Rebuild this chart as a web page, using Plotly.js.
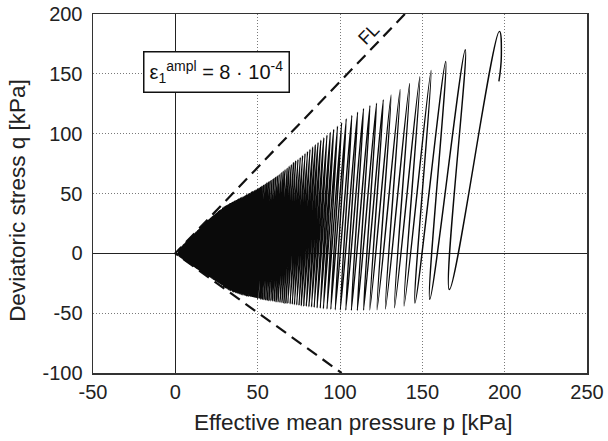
<!DOCTYPE html>
<html>
<head>
<meta charset="utf-8">
<script src="https://cdn.plot.ly/plotly-3.0.1.min.js"></script>
<style>html,body{margin:0;padding:0;background:#fff;}</style>
</head>
<body>
<div id="chart" style="width:608px;height:441px;"></div>
<script>
// Start of the stress path (small hook before the first peak)
const startP = [196.5, 198.0];
const startQ = [143.7, 166.0];

// Peaks of the cycles (p, q) in kPa
const peakP = [196.8, 176.1, 164.2, 155.3, 148.5, 142.3, 136.5, 131.0, 126.3, 122.2,
  118.2, 114.3, 110.7, 107.2, 103.8,
  101.0, 98.5, 96.2, 94.1, 92.1, 90.2, 88.4, 86.7, 85.0, 83.4,
  81.8, 80.3, 78.8, 77.3, 75.9, 74.5, 73.1, 71.8, 70.5, 69.2,
  67.9, 66.7, 65.5, 64.3, 63.1, 62.0, 60.9, 59.8, 58.7, 57.6,
  56.6, 55.6, 54.6, 53.6, 52.6, 51.7, 50.8, 49.9, 49.0, 48.1,
  47.2, 46.4, 45.6, 44.8, 44.0, 43.2, 42.4, 41.7, 41.0, 40.3,
  39.6, 38.9, 38.2, 37.5, 36.9, 36.2, 35.6, 35.0, 34.4, 33.8,
  33.2, 32.6, 32.0, 31.4, 30.9, 30.3, 29.8, 29.3, 28.8, 28.3,
  27.8, 27.3, 26.8, 26.3, 25.8, 25.4, 24.9, 24.5, 24.0, 23.6,
  23.2, 22.8, 22.4, 22.0, 21.6, 21.2, 20.8, 20.5, 20.1, 19.8,
  19.4, 19.1, 18.7, 18.4, 18.1, 17.8, 17.5, 17.2, 16.9, 16.6,
  16.3, 16.0, 15.7, 15.4, 15.1, 14.8, 14.5, 14.2, 13.9, 13.6,
  13.3, 13.0, 12.7, 12.4, 12.1, 11.8, 11.5, 11.2, 10.9, 10.6,
  10.3, 10.0, 9.7, 9.4, 9.1, 8.8, 8.5, 8.2, 7.9, 7.6,
  7.3, 7.0, 6.7, 6.4, 6.1, 5.8, 5.5, 5.2, 4.9, 4.6,
  4.3, 4.0, 3.7, 3.4, 3.1, 2.8, 2.5, 2.2];
const peakQ = [185.5, 170.2, 160.4, 152.9, 147.5, 142.0, 137.0, 132.3, 128.4, 125.5,
  123.5, 121.0, 118.0, 115.3, 112.5,
  109.2, 106.3, 103.6, 101.1, 98.8, 96.6, 94.6, 92.6, 90.7, 88.8,
  87.0, 85.2, 83.5, 81.8, 80.2, 78.6, 77.0, 75.6, 74.1, 72.7,
  71.2, 69.9, 68.6, 67.3, 65.9, 64.7, 63.5, 62.3, 61.3, 60.3,
  59.4, 58.5, 57.6, 56.7, 55.8, 55.0, 54.2, 53.4, 52.8, 52.2,
  51.5, 51.0, 50.4, 49.9, 49.3, 48.7, 48.2, 47.7, 47.2, 46.7,
  46.2, 45.7, 45.2, 44.6, 44.2, 43.7, 43.2, 42.8, 42.3, 41.9,
  41.4, 41.0, 40.5, 40.1, 39.7, 39.2, 38.8, 38.2, 37.6, 37.0,
  36.5, 35.9, 35.3, 34.7, 34.2, 33.7, 33.1, 32.7, 32.1, 31.6,
  31.2, 30.7, 30.3, 29.8, 29.3, 28.9, 28.4, 28.1, 27.6, 27.2,
  26.7, 26.3, 25.7, 25.3, 24.9, 24.5, 24.1, 23.7, 23.3, 22.9,
  22.5, 22.1, 21.7, 21.3, 20.9, 20.5, 20.1, 19.7, 19.3, 18.9,
  18.5, 18.1, 17.6, 17.2, 16.8, 16.4, 16.0, 15.6, 15.2, 14.8,
  14.4, 14.0, 13.6, 13.2, 12.7, 12.3, 11.9, 11.5, 11.1, 10.6,
  10.2, 9.8, 9.4, 9.0, 8.5, 8.1, 7.7, 7.3, 6.9, 6.4,
  6.0, 5.6, 5.2, 4.8, 4.3, 3.9, 3.5, 3.1];

// Troughs of the cycles (p, q) in kPa
const troughP = [166.4, 154.5, 145.5, 138.9, 133.1, 127.6, 122.5, 118.1, 114.3, 110.5,
  106.9, 103.5, 100.2, 97.1,
  94.4, 92.1, 89.9, 88.0, 86.1, 84.3, 82.7, 81.1, 79.5, 78.0,
  76.5, 75.1, 73.7, 72.3, 71.0, 69.7, 68.3, 67.1, 65.9, 64.7,
  63.5, 62.4, 61.2, 60.1, 59.0, 58.0, 56.9, 55.9, 54.9, 53.9,
  52.9, 52.0, 51.1, 50.1, 49.2, 48.3, 47.5, 46.7, 45.8, 45.0,
  44.1, 43.4, 42.6, 41.9, 41.1, 40.4, 39.6, 39.0, 38.3, 37.7,
  37.0, 36.4, 35.7, 35.1, 34.5, 33.8, 33.3, 32.7, 32.2, 31.6,
  31.0, 30.5, 29.9, 29.4, 28.9, 28.3, 27.9, 27.4, 26.9, 26.5,
  26.0, 25.5, 25.1, 24.6, 24.1, 23.7, 23.3, 22.9, 22.4, 22.1,
  21.7, 21.3, 20.9, 20.6, 20.2, 19.8, 19.4, 19.2, 18.8, 18.5,
  18.1, 17.9, 17.5, 17.2, 16.9, 16.6, 16.4, 16.1, 15.8, 15.5,
  15.2, 15.0, 14.7, 14.4, 14.1, 13.8, 13.6, 13.3, 13.0, 12.7,
  12.4, 12.2, 11.9, 11.6, 11.3, 11.0, 10.8, 10.5, 10.2, 9.9,
  9.6, 9.4, 9.1, 8.8, 8.5, 8.2, 7.9, 7.7, 7.4, 7.1,
  6.8, 6.5, 6.3, 6.0, 5.7, 5.4, 5.1, 4.9, 4.6, 4.3,
  4.0, 3.7, 3.5, 3.2, 2.9, 2.6, 2.3, 2.1, 1.9];
const troughQ = [-30.3, -38.4, -41.5, -44.0, -45.5, -46.5, -47.1, -47.4, -47.6, -47.8,
  -47.7, -47.5, -47.4, -47.1,
  -46.8, -46.5, -46.3, -45.9, -45.6, -45.2, -44.9, -44.6, -44.3, -44.1,
  -43.8, -43.5, -43.2, -42.9, -42.6, -42.3, -42.0, -41.8, -41.5, -41.2,
  -41.0, -40.7, -40.5, -40.2, -39.9, -39.7, -39.4, -39.1, -38.8, -38.6,
  -38.3, -38.0, -37.8, -37.5, -37.2, -37.0, -36.7, -36.4, -36.2, -35.9,
  -35.6, -35.4, -35.1, -34.9, -34.7, -34.4, -34.1, -33.8, -33.5, -33.2,
  -32.9, -32.6, -32.3, -32.0, -31.6, -31.0, -30.6, -30.2, -29.8, -29.3,
  -28.8, -28.4, -27.9, -27.5, -27.0, -26.5, -26.1, -25.7, -25.2, -24.9,
  -24.4, -24.0, -23.6, -23.1, -22.7, -22.3, -22.0, -21.6, -21.2, -20.9,
  -20.5, -20.2, -19.8, -19.5, -19.2, -18.8, -18.4, -18.2, -17.9, -17.6,
  -17.2, -17.0, -16.6, -16.3, -16.1, -15.8, -15.6, -15.3, -15.0, -14.7,
  -14.4, -14.3, -14.0, -13.7, -13.4, -13.1, -12.9, -12.6, -12.4, -12.1,
  -11.8, -11.6, -11.3, -11.0, -10.7, -10.5, -10.3, -10.0, -9.7, -9.4,
  -9.1, -9.0, -8.7, -8.4, -8.2, -7.9, -7.6, -7.4, -7.2, -6.9,
  -6.6, -6.4, -6.2, -5.9, -5.6, -5.4, -5.1, -4.9, -4.6, -4.3,
  -4.0, -3.7, -3.5, -3.2, -2.9, -2.6, -2.3, -2.1, -1.9];

// Failure line (compression / extension)
const flP = [139.4, 0, 101.0];
const flQ = [200, 0, -100];

// Axis ticks
const xTicks = [-50, 0, 50, 100, 150, 200, 250];
const yTicks = [-100, -50, 0, 50, 100, 150, 200];

// Build the path: start hook, then peak/trough alternation
const pathP = startP.slice();
const pathQ = startQ.slice();
for (let i = 0; i < peakP.length; i++) {
  pathP.push(peakP[i]); pathQ.push(peakQ[i]);
  if (i < troughP.length) { pathP.push(troughP[i]); pathQ.push(troughQ[i]); }
}

const font = '"Liberation Sans", Arial, Helvetica, sans-serif';

const traces = [
  {
    x: flP, y: flQ, mode: 'lines', hoverinfo: 'skip',
    line: {color: '#111', width: 2.2, dash: '12px,7px'}
  },
  {
    x: pathP, y: pathQ, mode: 'lines', hoverinfo: 'skip',
    line: {color: '#0a0a0a', width: 1.45, shape: 'spline', smoothing: 1.3}
  }
];

const axisCommon = {
  showgrid: true, gridcolor: '#7a7a7a', gridwidth: 1, griddash: '1px,2px',
  zeroline: true, zerolinecolor: '#222', zerolinewidth: 1.3,
  showline: true, linecolor: '#333', linewidth: 1.5, mirror: true,
  ticks: '', tickfont: {family: font, size: 20, color: '#222'},
  fixedrange: true
};

const layout = {
  width: 608, height: 441,
  margin: {l: 93, r: 21, t: 14, b: 68},
  paper_bgcolor: '#fff', plot_bgcolor: '#fff',
  showlegend: false,
  font: {family: font, color: '#222'},
  xaxis: Object.assign({}, axisCommon, {
    range: [-50, 250], tickvals: xTicks, ticktext: xTicks.map(String)
  }),
  yaxis: Object.assign({}, axisCommon, {
    range: [-100, 200], tickvals: yTicks, ticktext: yTicks.map(String),
    ticklabelstandoff: 5
  }),
  annotations: [
    {
      x: 0.528, y: -0.139, xref: 'paper', yref: 'paper', showarrow: false,
      xanchor: 'center', yanchor: 'middle',
      text: 'Effective mean pressure p [kPa]',
      font: {family: font, size: 22.5, color: '#222'}
    },
    {
      x: -0.152, y: 0.482, xref: 'paper', yref: 'paper', showarrow: false,
      xanchor: 'center', yanchor: 'middle', textangle: -90,
      text: 'Deviatoric stress q [kPa]',
      font: {family: font, size: 22.5, color: '#222'}
    },
    {
      x: 25.3, y: 151.2, xref: 'x', yref: 'y', showarrow: false,
      text: 'ε<sub>1</sub><sup>ampl</sup> = 8 · 10<sup>-4</sup>',
      font: {family: font, size: 20, color: '#111'},
      bgcolor: '#fff', bordercolor: '#111', borderwidth: 1.5, borderpad: 5
    },
    {
      x: 117.5, y: 183.5, xref: 'x', yref: 'y', showarrow: false,
      text: 'FL', textangle: -46,
      font: {family: font, size: 18, color: '#111'}
    }
  ]
};

Plotly.newPlot('chart', traces, layout, {displayModeBar: false, staticPlot: true});
</script>
</body>
</html>
